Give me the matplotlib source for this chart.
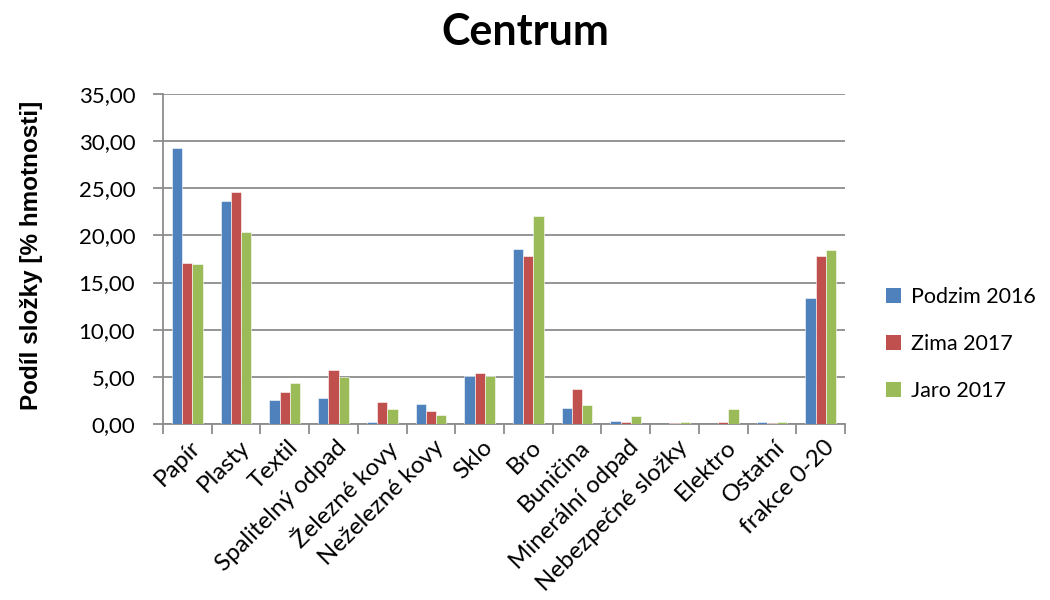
import matplotlib
matplotlib.use("Agg")
import matplotlib.pyplot as plt
import numpy as np
from matplotlib.patches import Patch

categories = ["Papír", "Plasty", "Textil", "Spalitelný odpad", "Železné kovy",
              "Neželezné kovy", "Sklo", "Bro", "Buničina", "Minerální odpad",
              "Nebezpečné složky", "Elektro", "Ostatní", "frakce 0-20"]
podzim_2016 = [29.24, 23.62, 2.54, 2.79, 0.26, 2.08, 5.04, 18.60, 1.69, 0.35, 0.02, 0.02, 0.24, 13.41]
zima_2017 = [17.12, 24.58, 3.35, 5.68, 2.36, 1.41, 5.40, 17.80, 3.74, 0.21, 0.14, 0.20, 0.10, 17.86]
jaro_2017 = [17.01, 20.40, 4.34, 5.01, 1.62, 0.91, 5.12, 22.10, 2.04, 0.80, 0.24, 1.62, 0.17, 18.46]
series_names = ["Podzim 2016", "Zima 2017", "Jaro 2017"]
colors = ["#4F81BD", "#C0504D", "#9BBB59"]
yticks = [0, 5, 10, 15, 20, 25, 30, 35]

FONT = "Lato"
GRAY = "#8C8C8C"

fig = plt.figure(figsize=(10.5, 6), dpi=100)
ax = fig.add_axes([163 / 1050, 1 - 424 / 600, 682 / 1050, 330 / 600])

n = len(categories)
x = np.arange(n)
w = 0.21
for i, (vals, c) in enumerate(zip([podzim_2016, zima_2017, jaro_2017], colors)):
    ax.bar(x + (i - 1) * w, vals, width=w, color=c, edgecolor="white",
           linewidth=0.4, zorder=3)

ax.set_xlim(-0.5, n - 0.5)
ax.set_ylim(0, 35)
ax.set_yticks(yticks)
ax.set_yticklabels([f"{v:.2f}".replace(".", ",") for v in yticks],
                   fontsize=16, family=FONT)
ax.yaxis.grid(True, color=GRAY, linewidth=1.3, zorder=0)
ax.set_axisbelow(True)

# x ticks sit on the boundaries between categories
ax.set_xticks(np.arange(-0.5, n, 1.0))
ax.set_xticklabels([])
ax.tick_params(axis="x", length=7, color=GRAY, width=1.3)
ax.tick_params(axis="y", length=7, color=GRAY, width=1.3, pad=13)

for s in ["top", "right"]:
    ax.spines[s].set_visible(False)
for s in ["left", "bottom"]:
    ax.spines[s].set_color(GRAY)
    ax.spines[s].set_linewidth(1.3)

for xi, lab in zip(x, categories):
    ax.text(xi + 0.05, -1.3, lab, rotation=45, ha="right", va="top",
            rotation_mode="anchor", fontsize=17.3, family=FONT)

fig.text(32 / 1050, 1 - 255 / 600, "Podíl složky [% hmotnosti]", rotation=90,
         ha="center", va="center", fontsize=17.5, fontweight="bold",
         family="Liberation Sans")
fig.text(0.5, 1 - 32 / 600, "Centrum", ha="center", va="center", fontsize=31,
         fontweight="bold", family=FONT)

handles = [Patch(facecolor=c, edgecolor="none") for c in colors]
fig.legend(handles, series_names, loc="center left",
           bbox_to_anchor=(886 / 1050, 1 - 344 / 600), frameon=False,
           prop={"family": FONT, "size": 15.5}, borderpad=0, borderaxespad=0,
           handlelength=0.7, handleheight=0.7, labelspacing=1.25,
           handletextpad=0.45)

fig.savefig("out.png", dpi=100)
